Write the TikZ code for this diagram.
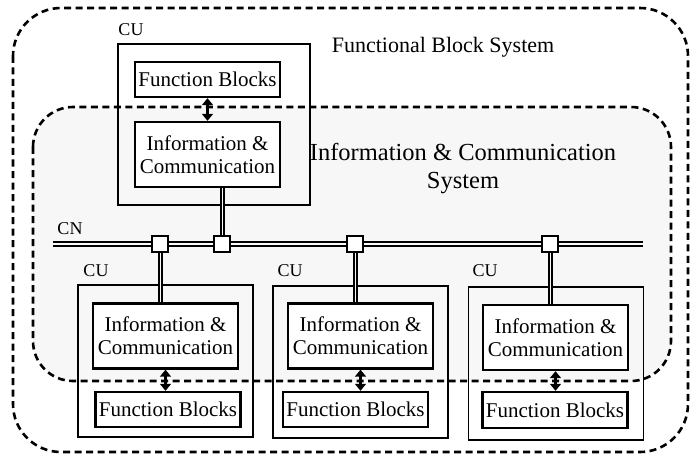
\documentclass[tikz,border=0pt]{standalone}
\usepackage{fontspec}
\setmainfont{Liberation Serif}
\usetikzlibrary{positioning, arrows.meta}
\definecolor{shade}{HTML}{f7f7f7}

\begin{document}
\begin{tikzpicture}[
  x=1pt, y=-1pt,
  region/.style={draw=black, line width=2.6pt, dash pattern=on 7pt off 4.5pt, rounded corners=48pt},
  unit/.style={draw=black, line width=1.4pt, minimum width=175pt, minimum height=152pt, inner sep=0pt},
  blk/.style={draw=black, line width=2.4pt, fill=white, minimum width=145pt, inner sep=0pt, align=center,
              font=\fontsize{21}{23}\selectfont},
  tag/.style={inner sep=0pt, font=\fontsize{18}{20}\selectfont},
  title/.style={inner sep=0pt, align=center, font=\fontsize{22}{28}\selectfont},
  bus/.style={draw=black, line width=2.4pt, double=shade!60, double distance=1.3pt},
  link/.style={draw=black, line width=2pt, double=shade!60, double distance=1pt},
  tap/.style={draw=black, line width=1.6pt, fill=white, minimum size=16pt, inner sep=0pt},
  biarr/.style={{Triangle[length=7pt,width=11pt]}-{Triangle[length=7pt,width=11pt]}, line width=3.2pt}
]
  \useasboundingbox (0,0) rectangle (695,457);

  % the two systems
  \draw[region] (13,8) rectangle (688,452);
  \draw[region, fill=shade, rounded corners=40pt] (33,107) rectangle (671,381);
  \node[title] (fbs) at (443,47) {Functional Block System};
  \node[title, font=\fontsize{24.5}{28}\selectfont] (ics) at (463,169) {Information \& Communication\\System};

  % control units
  \node[unit, minimum width=192pt, minimum height=161pt] (cuT) at (214,124.5) {};
  \node[unit] (cuA) at (165.5,361) {};
  \node[unit] (cuB) at (360.5,362) {};
  \node[unit, minimum height=153pt] (cuC) at (556,363.5) {};
  \node[tag] (lblT) at (131,30) {CU};
  \node[tag] (lblA) at (96,271) {CU};
  \node[tag] (lblB) at (290,271) {CU};
  \node[tag] (lblC) at (485,271) {CU};

  % inner blocks
  \node[blk, minimum height=35pt] (fbT) at (207.5,79.5) {Function Blocks};
  \node[blk, minimum height=65pt] (icT) at (207.5,154.5) {Information \&\\Communication};
  \node[blk, minimum height=65pt] (icA) at (165.5,336) {Information \&\\Communication};
  \node[blk, minimum height=35pt] (fbA) at (168,409.5) {Function Blocks};
  \node[blk, minimum height=65pt] (icB) at (360.5,336) {Information \&\\Communication};
  \node[blk, minimum height=35pt] (fbB) at (355.5,409.5) {Function Blocks};
  \node[blk, minimum height=65pt] (icC) at (555.5,337.5) {Information \&\\Communication};
  \node[blk, minimum height=36pt] (fbC) at (555,410) {Function Blocks};

  \draw[biarr] (fbT.south) -- (icT.north);
  \draw[biarr] (icA.south) -- (icA.south |- fbA.north);
  \draw[biarr] (icB.south) -- (icB.south |- fbB.north);
  \draw[biarr] (icC.south) -- (icC.south |- fbC.north);

  % communication network
  \coordinate (busW) at (53,244);
  \coordinate (busE) at (643,244);
  \draw[bus] (busW) -- (busE);
  \node[tag] (cn) at (70,229) {CN};

  \coordinate (tapT) at (222,244);
  \coordinate (tapA) at (160,244);
  \coordinate (tapB) at (355,244);
  \coordinate (tapC) at (550,244);
  \draw[link] (tapT) -- (tapT |- icT.south);
  \draw[link] (tapA) -- (tapA |- icA.north);
  \draw[link] (tapB) -- (tapB |- icB.north);
  \draw[link] (tapC) -- (tapC |- icC.north);
  \node[tap] (sqT) at (tapT) {};
  \node[tap] (sqA) at (tapA) {};
  \node[tap] (sqB) at (tapB) {};
  \node[tap] (sqC) at (tapC) {};
\end{tikzpicture}
\end{document}
